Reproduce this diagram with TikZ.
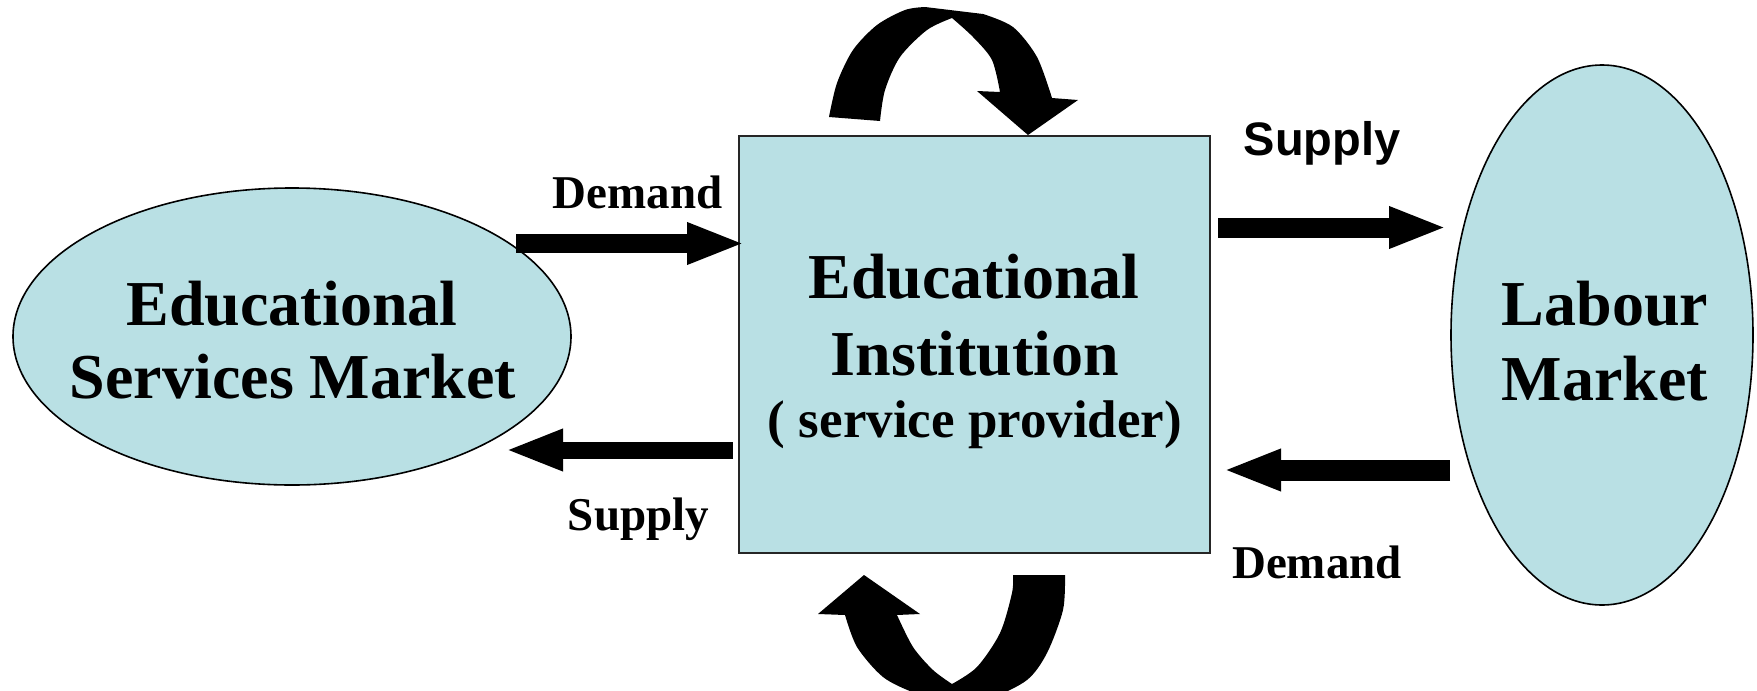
\documentclass[tikz,border=0pt]{standalone}
\usepackage{fontspec}
\setmainfont{Liberation Serif}
\newfontfamily\headsans{Liberation Sans}
\usetikzlibrary{arrows.meta,shapes.geometric}
\definecolor{paleteal}{RGB}{185,224,228}
\begin{document}
\begin{tikzpicture}[x=0.5pt,y=-0.5pt,
  market/.style={ellipse, draw=black, line width=0.8pt, fill=paleteal, inner sep=0pt},
  inst/.style={rectangle, draw=black!85, line width=1.1pt, fill=paleteal, inner sep=0pt},
  bigtext/.style={font=\bfseries\fontsize{32}{36}\selectfont, anchor=base, inner sep=0pt},
  smalltext/.style={font=\bfseries\fontsize{26.5}{30}\selectfont, anchor=base, inner sep=0pt},
  flowlabel/.style={font=\bfseries\fontsize{23.5}{27}\selectfont, anchor=base, inner sep=0pt},
  sanslabel/.style={font=\headsans\bfseries\fontsize{23.5}{27}\selectfont, anchor=base, inner sep=0pt},
  flow/.style={line width=#1, -{Triangle[length=29pt,width=19pt]}},
  flow/.default=9.5pt
]
\useasboundingbox[fill=white] (0,0) rectangle (1757,691);

% the two markets and the institution between them
\node[market, minimum width=279pt, minimum height=148.5pt] (esm) at (292,336.5) {};
\node[market, minimum width=151pt, minimum height=270pt] (lm) at (1602,335) {};
\node[inst, minimum width=235.5pt, minimum height=208.5pt] (ei) at (974.5,344.5) {};

% texts of the shapes
\node[bigtext] (esm1) at (292,325) {Educational};
\node[bigtext] (esm2) at (293,398) {Services Market};
\node[bigtext] (lm1) at (1605,325) {Labour};
\node[bigtext] (lm2) at (1605,400) {Market};
\node[bigtext] (ei1) at (974,298) {Educational};
\node[bigtext] (ei2) at (975,375) {Institution};
\node[smalltext] (ei3) at (975,437) {( service provider)};

% end points of the flows
\coordinate (d1s) at (516,243.5);
\coordinate (d1e) at (745,243.5);
\coordinate (s1s) at (733,450);
\coordinate (s1e) at (505,450);
\coordinate (s2s) at (1218,227.5);
\coordinate (s2e) at (1447,227.5);
\coordinate (d2s) at (1450,470);
\coordinate (d2e) at (1223,470);

% flows between the markets and the institution
\draw[flow] (d1s) -- (d1e);
\draw[flow=8.5pt] (s1s) -- (s1e);
\draw[flow=10pt] (s2s) -- (s2e);
\draw[flow=10.5pt] (d2s) -- (d2e);

% flow labels
\node[flowlabel] (dl1) at (637.5,208) {Demand};
\node[flowlabel] (sl1) at (638.5,530) {Supply};
\node[sanslabel] (sl2) at (1322,155) {Supply};
\node[flowlabel] (dl2) at (1317,578) {Demand};

% curved arrow over the institution
\fill[black]
  plot[smooth] coordinates {(829,117) (837,83) (853,50) (877,25) (905,10) (925,7)}
  -- plot[smooth] coordinates {(983,14) (1013,27) (1037,57) (1052,98)}
  -- (1078,100) -- (1028,135) -- (977,91)
  -- plot[smooth] coordinates {(1000,92) (992,60) (973,37) (952,18)}
  -- plot[smooth] coordinates {(952,18) (927,30) (900,57) (885,90) (880,121)}
  -- cycle;

% curved arrow under the institution
\begin{scope}
\clip (0,0) rectangle (1757,691);
\fill[black]
  (1013,575) -- (1065,575)
  -- plot[smooth] coordinates {(1065,575) (1063,610) (1047,653) (1027,680) (990,698) (950,702) (915,693) (883,677) (857,647) (845,615)}
  -- (818,614) -- (864,575) -- (920,614) -- (897,615)
  -- plot[smooth] coordinates {(897,615) (913,647) (933,670) (952,684)}
  -- plot[smooth] coordinates {(952,684) (977,667) (1000,633) (1012,593) (1013,575)}
  -- cycle;
\end{scope}
\end{tikzpicture}
\end{document}
